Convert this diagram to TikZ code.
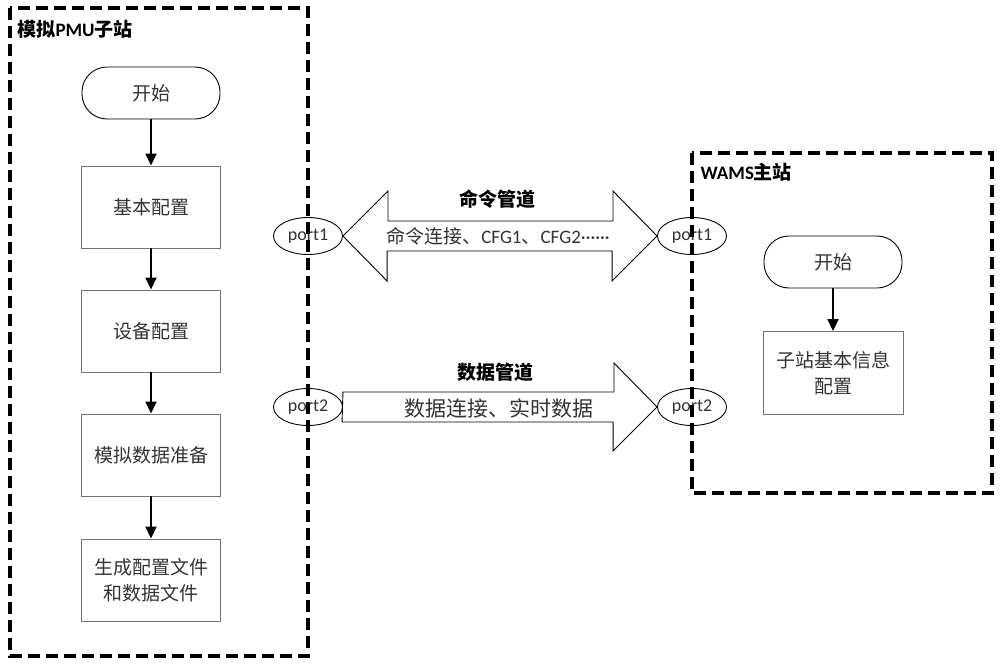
\documentclass[tikz,border=0pt]{standalone}
\usepackage{fontspec}
\setmainfont{Carlito}
\newfontfamily\cjk{Noto Sans CJK SC}
\usetikzlibrary{arrows.meta,calc,shapes.geometric}
\begin{document}
\begin{tikzpicture}[x=1pt,y=-1pt,
  frame/.style={line width=3.2pt,dash pattern=on 12pt off 6pt},
  term/.style={draw=black,line width=0.9pt,rounded corners=25pt,minimum width=138pt,minimum height=52pt,font=\fontsize{19}{21}\selectfont\cjk,text=black!80},
  box/.style={draw=black!55,line width=0.9pt,minimum width=139pt,minimum height=82pt,align=center,font=\fontsize{19}{26}\selectfont\cjk,text=black!80},
  flow/.style={line width=1.8pt,-{Triangle[length=12pt,width=11pt]}},
  port/.style={draw,ellipse,line width=0.9pt,minimum width=69pt,minimum height=37pt,inner sep=0pt,font=\fontsize{18}{20}\selectfont,text=black!80},
  blockarrow/.style={draw=black,line width=0.9pt,fill=white},
  title/.style={anchor=west,font=\fontsize{19}{21}\selectfont\bfseries},
  lbl/.style={font=\fontsize{19}{21}\selectfont\cjk\bfseries}
]
\useasboundingbox (0,0) rectangle (1000,664);
% left flow
\node[term] (s1) at (151,93) {开始};
\node[box] (b1) at (151,207) {基本配置};
\node[box] (b2) at (151,331) {设备配置};
\node[box] (b3) at (151,455) {模拟数据准备};
\node[box] (b4) at (151,580) {生成配置文件\\和数据文件};
\draw[flow] (s1) -- (b1);
\draw[flow] (b1) -- (b2);
\draw[flow] (b2) -- (b3);
\draw[flow] (b3) -- (b4);
% right flow
\node[term] (s2) at (833,262) {开始};
\node[box, minimum width=140pt, minimum height=83pt] (c1) at (833,373) {子站基本信息\\配置};
\draw[flow] (s2) -- (c1);
% ports
\node[port] (p1l) at (308,236) {port1};
\node[port] (p1r) at (692,236) {port1};
\node[port] (p2l) at (308,407) {port2};
\node[port] (p2r) at (692,407) {port2};
% command pipe (double arrow)
\draw[blockarrow] (p1l.east) -- ++(45,-45) -- ++(0,30) -- ++(225,0) -- ++(0,-30) -- (p1r.west)
  -- ++(-45,45) -- ++(0,-30) -- ++(-225,0) -- ++(0,30) -- cycle;
\node[font=\fontsize{19}{21}\selectfont,text=black!80] (t1) at (498,236) {{\cjk 命令连接、}CFG1{\cjk 、}CFG2······};
\node[lbl] (l1) at (497,199) {命令管道};
% data pipe (single arrow)
\draw[blockarrow] (p2l.east) ++(0,-15) -- ++(271,0) -- ++(0,-29) -- (p2r.west)
  -- ++(-44,44) -- ++(0,-29) -- ++(-271,0) -- cycle;
\node[font=\fontsize{21}{24}\selectfont\cjk,text=black!80] (t2) at (499,408) {数据连接、实时数据};
\node[lbl] (l2) at (495,372) {数据管道};
% frames
\draw[frame] (10,8) rectangle (308,656);
\draw[frame] (692,153) rectangle (992,493);
\node[title] (h1) at (14,29) {{\cjk 模拟}PMU{\cjk 子站}};
\node[title] (h2) at (697,172) {WAMS{\cjk 主站}};
\end{tikzpicture}
\end{document}
